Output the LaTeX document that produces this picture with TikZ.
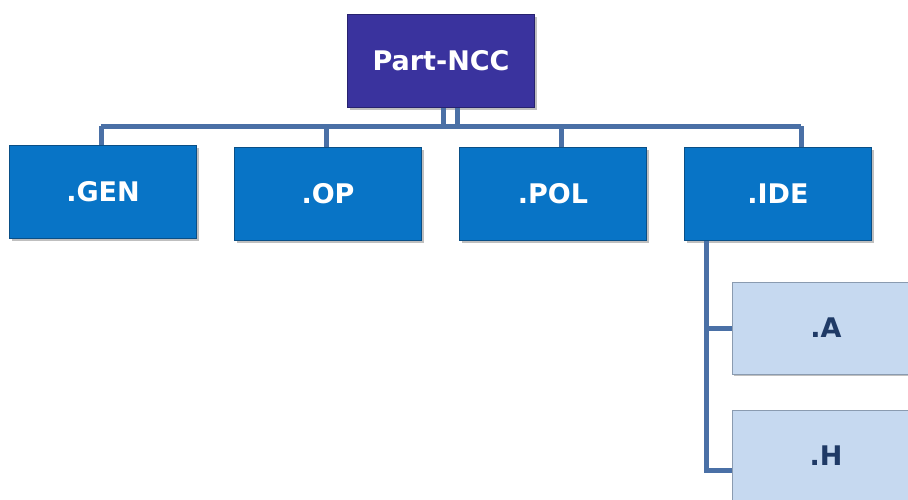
\documentclass[tikz,border=0pt]{standalone}
\usepackage{fontspec}
\setmainfont{DejaVu Sans}
\usepackage{tikz}
\usetikzlibrary{positioning,shadows}

\definecolor{nccfill}{HTML}{3A339E}
\definecolor{nccedge}{HTML}{27226E}
\definecolor{unitfill}{HTML}{0874C6}
\definecolor{unitedge}{HTML}{0A4F86}
\definecolor{subfill}{HTML}{C6D9F0}
\definecolor{subedge}{HTML}{8A9BB0}
\definecolor{subtext}{HTML}{1F3A66}
\definecolor{linkblue}{HTML}{4A70A6}

\begin{document}
\begin{tikzpicture}[x=1pt,y=-1pt,
    box/.style={rectangle, minimum width=187pt, minimum height=93pt, line width=1pt,
      font=\fontsize{27}{32}\selectfont\bfseries,
      drop shadow={opacity=0.5, shadow xshift=2pt, shadow yshift=-2pt}},
    nccbox/.style={box, fill=nccfill, draw=nccedge, text=white},
    unitbox/.style={box, fill=unitfill, draw=unitedge, text=white},
    subbox/.style={box, minimum width=188pt, minimum height=92pt, fill=subfill, draw=subedge, text=subtext},
    link/.style={draw=linkblue, line width=5pt}]
    \useasboundingbox (0,0) rectangle (908,499);
    % Draw the boxes
    \node[nccbox] (ncc) at (441,61) {Part-NCC};
    \node[unitbox] (gen) at (103,192) {.GEN};
    \node[unitbox] (op) at (328,194) {.OP};
    \node[unitbox] (pol) at (553,194) {.POL};
    \node[unitbox] (ide) at (778,194) {.IDE};
    \node[subbox] (a) at (826,328) {.A};
    \node[subbox] (h) at (826,456) {.H};
    % Draw the connectors
    \coordinate (bus) at (0,126);
    \coordinate (trunk) at ([xshift=-72pt]ide.south);
    \draw[link] ([xshift=-2pt]gen.north |- bus) -- ([xshift=23pt]ide.north |- bus);
    \draw[link] ([xshift=2pt]ncc.south) -- ([xshift=2pt]ncc.south |- bus);
    \draw[link] ([xshift=16pt]ncc.south) -- ([xshift=16pt]ncc.south |- bus);
    \draw[link] ([xshift=-2pt]gen.north) -- ([xshift=-2pt]gen.north |- bus);
    \draw[link] ([xshift=-2pt]op.north) -- ([xshift=-2pt]op.north |- bus);
    \draw[link] ([xshift=8pt]pol.north) -- ([xshift=8pt]pol.north |- bus);
    \draw[link] ([xshift=23pt]ide.north) -- ([xshift=23pt]ide.north |- bus);
    \draw[link] (trunk) |- ([yshift=-14pt]h.west);
    \draw[link] (trunk |- a.west) -- (a.west);
\end{tikzpicture}
\end{document}
